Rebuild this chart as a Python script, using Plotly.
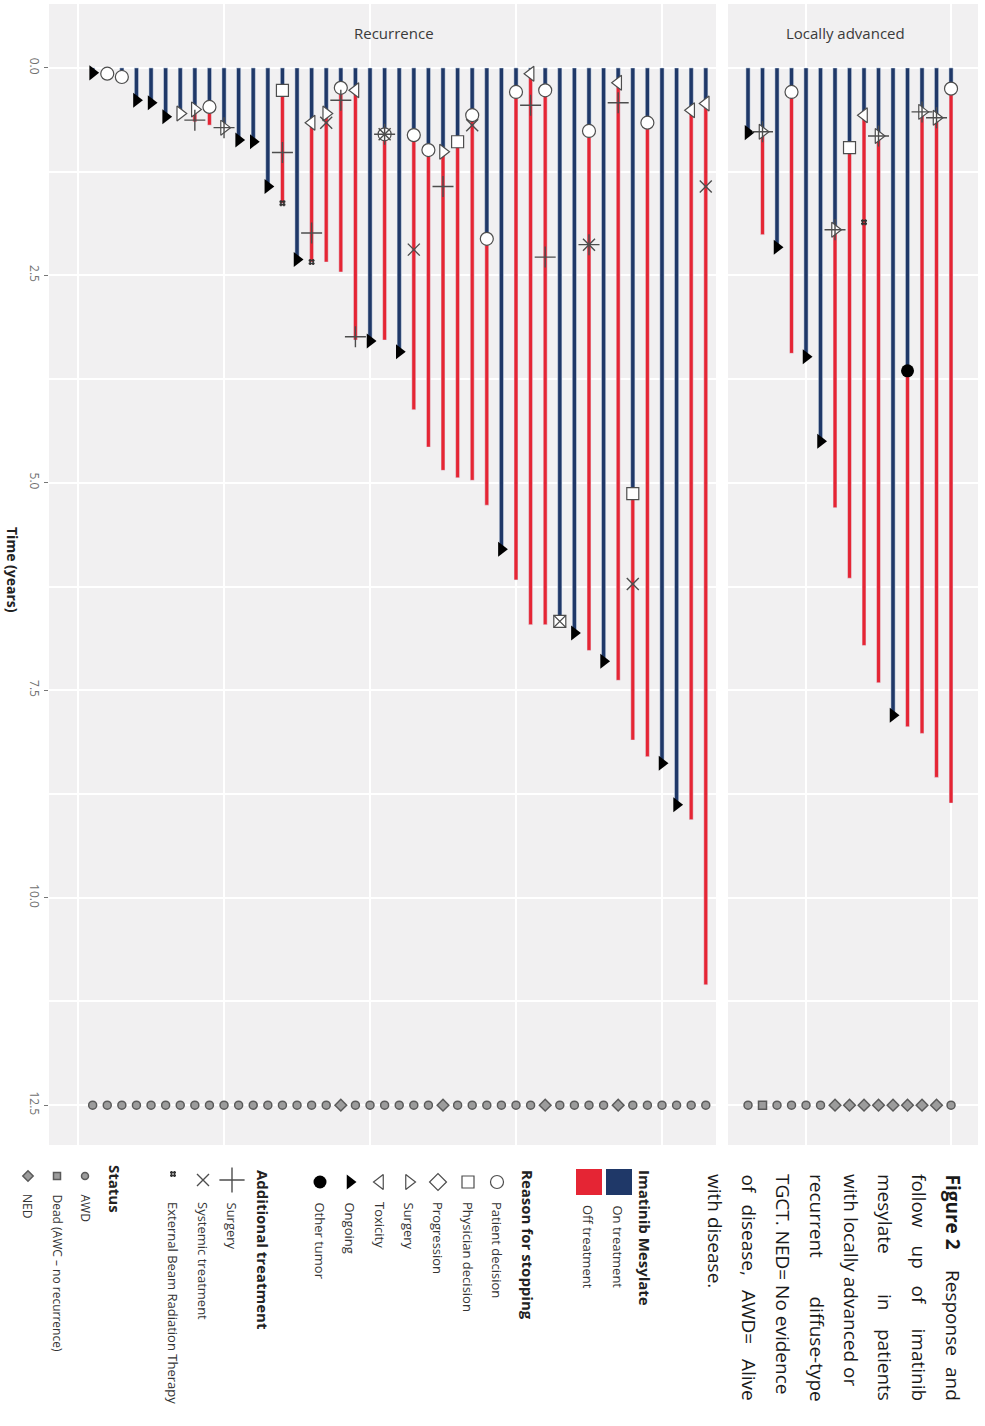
import plotly.graph_objects as go

W, H = 985, 1426

BLUE = "#1f3868"
RED = "#e52534"
PANEL = "#f1f0f1"
EDGE = "#4d4d4d"
TEXT = "#333333"
FONT = "Open Sans, sans-serif"

# ---- Recurrence cohort: one entry per patient, times in years ----
rec_on = [0.06, 0.07, 0.11, 0.39, 0.42, 0.59, 0.55, 0.50, 0.47, 0.72,
          0.87, 0.89, 1.43, 0.27, 2.31, 0.66, 0.55, 0.24, 0.27, 3.29,
          0.80, 3.42, 0.81, 0.99, 1.01, 0.89, 0.57, 2.06, 5.80, 0.29,
          0.07, 0.27, 6.67, 6.81, 0.76, 7.15, 0.18, 5.13, 0.66, 8.38,
          8.88, 0.51, 0.43]
rec_end = [0.06, 0.08, 0.12, 0.39, 0.42, 0.59, 0.58, 0.65, 0.69, 0.76,
           0.87, 0.89, 1.43, 1.63, 2.31, 2.34, 2.34, 2.46, 3.28, 3.29,
           3.28, 3.42, 4.12, 4.57, 4.85, 4.94, 4.97, 5.27, 5.80, 6.17,
           6.71, 6.71, 6.67, 6.81, 7.02, 7.15, 7.38, 8.10, 8.30, 8.38,
           8.88, 9.06, 11.05]
rec_reason = ["ongoing", "patient", "patient", "ongoing", "ongoing", "ongoing", "surgery", "surgery", "patient", "surgery",
              "ongoing", "ongoing", "ongoing", "physician", "ongoing", "toxicity", "surgery", "patient", "toxicity", "ongoing",
              "patient", "ongoing", "patient", "patient", "surgery", "physician", "patient", "patient", "ongoing", "patient",
              "toxicity", "patient", "physician", "ongoing", "patient", "ongoing", "toxicity", "physician", "patient", "ongoing",
              "ongoing", "toxicity", "toxicity"]
rec_status = ["AWD"] * 17 + ["NED"] + ["AWD"] * 6 + ["NED"] + ["AWD"] * 6 + ["NED"] + ["AWD"] * 4 + ["NED"] + ["AWD"] * 6
rec_surgery_pt = [8, 10, 14, 16, 18, 19, 21, 25, 31, 32, 35, 37]
rec_surgery_t = [0.63, 0.72, 1.02, 1.99, 0.39, 3.24, 0.80, 1.43, 0.45, 2.28, 2.13, 0.42]
rec_systemic_pt = [17, 21, 23, 27, 33, 35, 38, 43]
rec_systemic_t = [0.66, 0.80, 2.19, 0.69, 6.67, 2.13, 6.22, 1.43]
rec_ebrt_pt = [14, 16]
rec_ebrt_t = [1.63, 2.34]

# ---- Locally advanced cohort ----
la_on = [0.78, 0.77, 2.16, 0.29, 3.48, 4.50, 1.95, 0.96, 0.57, 0.82, 7.80, 3.65, 0.53, 0.60, 0.25]
la_end = [0.78, 2.01, 2.16, 3.44, 3.48, 4.50, 5.30, 6.15, 6.96, 7.41, 7.80, 7.94, 8.02, 8.55, 8.86]
la_reason = ["ongoing", "surgery", "ongoing", "patient", "ongoing", "ongoing", "surgery", "physician",
             "toxicity", "surgery", "ongoing", "other", "surgery", "surgery", "patient"]
la_status = ["AWD", "Dead", "AWD", "AWD", "AWD", "AWD", "NED", "NED", "NED", "NED", "NED", "NED", "NED", "NED", "AWD"]
la_surgery_pt = [2, 7, 10, 13, 14]
la_surgery_t = [0.77, 1.95, 0.82, 0.53, 0.60]
la_systemic_pt = []
la_systemic_t = []
la_ebrt_pt = [9]
la_ebrt_t = [1.86]

TIME_TICKS = [0, 2.5, 5, 7.5, 10, 12.5]
TIME_LABELS = ["0.0", "2.5", "5.0", "7.5", "10.0", "12.5"]
TIME_MINOR = [1.25, 3.75, 6.25, 8.75, 11.25]
STATUS_TIME = 12.5

REASON = {
    "patient": ("circle", "white", 13),
    "physician": ("square", "white", 12),
    "progression": ("diamond", "white", 13),
    "surgery": ("triangle-right", "white", 13),
    "toxicity": ("triangle-left", "white", 13),
    "ongoing": ("triangle-right", "black", 13),
    "other": ("circle", "black", 13),
}
ADDITIONAL = {
    "surgery": dict(symbol="cross-thin", size=15, color=EDGE, line=dict(color=EDGE, width=1.4)),
    "systemic": dict(symbol="x-thin", size=12, color=EDGE, line=dict(color=EDGE, width=1.4)),
    "ebrt": dict(symbol="hash", size=6, color="#333333", line=dict(color="#333333", width=1.6)),
}
STATUS = {"AWD": ("circle", 8), "Dead": ("square", 8), "NED": ("diamond", 9)}


def reason_marker(key):
    sym, fill, size = REASON[key]
    line = dict(color=EDGE, width=1.2) if fill == "white" else dict(color=fill, width=0)
    return dict(symbol=sym, color=fill, size=size, line=line)


def status_marker(key, size=None):
    sym, s = STATUS[key]
    return dict(symbol=sym, size=size or s, color="#9c9c9c", line=dict(color="#5a5a5a", width=1.5))


def add_cohort(fig, xa, on, end, reason, status, surg, syst, ebrt):
    pts = list(range(1, len(on) + 1))
    fig.add_trace(go.Bar(x=pts, y=on, base=[0] * len(on), width=0.29, marker_color=BLUE,
                         xaxis=xa, yaxis="y"))
    fig.add_trace(go.Bar(x=pts, y=[e - o for o, e in zip(on, end)], base=on, width=0.27,
                         marker_color=RED, xaxis=xa, yaxis="y"))
    for key in REASON:
        sel = [i for i, r in enumerate(reason) if r == key]
        if sel:
            fig.add_trace(go.Scatter(x=[pts[i] for i in sel], y=[on[i] for i in sel], mode="markers",
                                     marker=reason_marker(key), xaxis=xa, yaxis="y", cliponaxis=False))
    for key, (p, t) in zip(["surgery", "systemic", "ebrt"], [surg, syst, ebrt]):
        if p:
            fig.add_trace(go.Scatter(x=p, y=t, mode="markers", marker=ADDITIONAL[key],
                                     xaxis=xa, yaxis="y", cliponaxis=False))
    for key in STATUS:
        sel = [i for i, s in enumerate(status) if s == key]
        if sel:
            fig.add_trace(go.Scatter(x=[pts[i] for i in sel], y=[STATUS_TIME] * len(sel), mode="markers",
                                     marker=status_marker(key), xaxis=xa, yaxis="y"))


fig = go.Figure()
add_cohort(fig, "x", rec_on, rec_end, rec_reason, rec_status,
           (rec_surgery_pt, rec_surgery_t), (rec_systemic_pt, rec_systemic_t), (rec_ebrt_pt, rec_ebrt_t))
add_cohort(fig, "x2", la_on, la_end, la_reason, la_status,
           (la_surgery_pt, la_surgery_t), (la_systemic_pt, la_systemic_t), (la_ebrt_pt, la_ebrt_t))


def px(x):
    return x / W


def py(y):
    return 1 - y / H


annotations = []


def label(text, x, y, size=13, bold=False, xanchor="center", yanchor="top", angle=90, color=TEXT):
    annotations.append(dict(
        text=f"<b>{text}</b>" if bold else text, x=px(x), y=py(y), xref="paper", yref="paper",
        xanchor=xanchor, yanchor=yanchor, textangle=angle, showarrow=False,
        font=dict(family=FONT, size=size, color=color)))


# strip labels and axis title
label("Recurrence", 394, 33, size=15, angle=0, yanchor="middle", color="#3a3a3a")
label("Locally advanced", 845, 33, size=15, angle=0, yanchor="middle", color="#3a3a3a")
label("Time (years)", 13, 570, size=14, bold=True, yanchor="middle", color="#222222")


# ---- legend (drawn on an invisible pixel-space axis) ----
def legend_key(x, y, marker):
    fig.add_trace(go.Scatter(x=[x], y=[y], mode="markers", marker=marker, xaxis="x3", yaxis="y3",
                             cliponaxis=False))


label("Imatinib Mesylate", 645, 1168, size=15, bold=True, color="#222222")
legend_key(619, 1182, dict(symbol="square", size=26, color=BLUE))
legend_key(589, 1182, dict(symbol="square", size=26, color=RED))
label("On treatment", 618, 1203)
label("Off treatment", 588, 1203)

label("Reason for stopping", 528, 1168, size=15, bold=True, color="#222222")
reason_items = [("patient", "Patient decision"), ("physician", "Physician decision"),
                ("progression", "Progression"), ("surgery", "Surgery"), ("toxicity", "Toxicity"),
                ("ongoing", "Ongoing"), ("other", "Other tumor")]
for (key, text), x in zip(reason_items, [497, 468, 438, 409, 380, 350, 320]):
    legend_key(x, 1182, reason_marker(key))
    label(text, x, 1200)

label("Additional treatment", 263, 1168, size=15, bold=True, color="#222222")
add_items = [("surgery", "Surgery"), ("systemic", "Systemic treatment"),
             ("ebrt", "External Beam Radiation Therapy")]
for (key, text), x in zip(add_items, [232, 203, 173]):
    m = dict(ADDITIONAL[key])
    if key == "surgery":
        m["size"] = 18
    legend_key(x, 1180 if key != "ebrt" else 1174, m)
    label(text, x, 1200)

label("Status", 115, 1163, size=15, bold=True, color="#222222")
for (key, text), x in zip([("AWD", "AWD"), ("Dead", "Dead (AWC \u2013 no recurrence)"), ("NED", "NED")],
                          [85, 57, 28]):
    legend_key(x, 1176, status_marker(key, 7 if key != "NED" else 8))
    label(text, x, 1192, size=12)

# ---- caption, one rotated line at a time ----
caption = [
    (953, [("<b>Figure 2</b>", 1172, "top"), ("Response", 1268, "top"), ("and", 1403, "bottom")]),
    (919, [("follow", 1172, "top"), ("up", 1243, "top"), ("of", 1283, "top"), ("imatinib", 1403, "bottom")]),
    (885, [("mesylate", 1172, "top"), ("in", 1292, "top"), ("patients", 1403, "bottom")]),
    (851, [("with locally advanced or", 1172, "top")]),
    (817, [("recurrent", 1172, "top"), ("diffuse-type", 1403, "bottom")]),
    (783, [("TGCT. NED= No evidence", 1172, "top")]),
    (749, [("of", 1172, "top"), ("disease,", 1202, "top"), ("AWD=", 1288, "top"), ("Alive", 1403, "bottom")]),
    (715, [("with disease.", 1172, "top")]),
]
for x, words in caption:
    for text, y, anchor in words:
        label(text, x, y, size=19, yanchor=anchor, color="#1a1a1a")

panel_y = [py(1145), py(4)]
axis_common = dict(showticklabels=False, ticks="", zeroline=False, showline=False,
                   gridcolor="white", gridwidth=1.5, fixedrange=True)

fig.update_layout(
    width=W, height=H,
    margin=dict(l=0, r=0, t=0, b=0),
    paper_bgcolor="white",
    plot_bgcolor="rgba(0,0,0,0)",
    barmode="overlay",
    showlegend=False,
    hovermode=False,
    font=dict(family=FONT, color=TEXT),
    xaxis=dict(domain=[px(49), px(716)], range=[-1.99, 43.7], tickvals=[0, 10, 20, 30, 40],
               anchor="y", **axis_common),
    xaxis2=dict(domain=[px(728), px(978)], range=[-0.38, 16.86], tickvals=[5, 15],
                anchor="y", **axis_common),
    yaxis=dict(domain=panel_y, range=[12.98, -0.77], tickvals=TIME_TICKS, ticktext=TIME_LABELS,
               tickangle=90, ticks="outside", ticklen=4, tickcolor="#777777",
               tickfont=dict(size=12, color="#6f6f6f"), zeroline=False, showline=False,
               gridcolor="white", gridwidth=1.5, anchor="x", fixedrange=True,
               minor=dict(tickvals=TIME_MINOR, showgrid=True, gridcolor="white", gridwidth=1.5, ticks="")),
    xaxis3=dict(domain=[0, 1], range=[0, W], visible=False, anchor="y3", fixedrange=True),
    yaxis3=dict(domain=[0, 1], range=[H, 0], visible=False, anchor="x3", fixedrange=True),
    shapes=[
        dict(type="rect", xref="x domain", yref="y domain", x0=0, x1=1, y0=0, y1=1,
             fillcolor=PANEL, line=dict(width=0), layer="below"),
        dict(type="rect", xref="x2 domain", yref="y domain", x0=0, x1=1, y0=0, y1=1,
             fillcolor=PANEL, line=dict(width=0), layer="below"),
    ],
    annotations=annotations,
)

# the page's default body margin would shift the whole figure by 8px
fig.write_html("out.html", config={"displayModeBar": False},
               post_script="document.body.style.margin='0px';")
